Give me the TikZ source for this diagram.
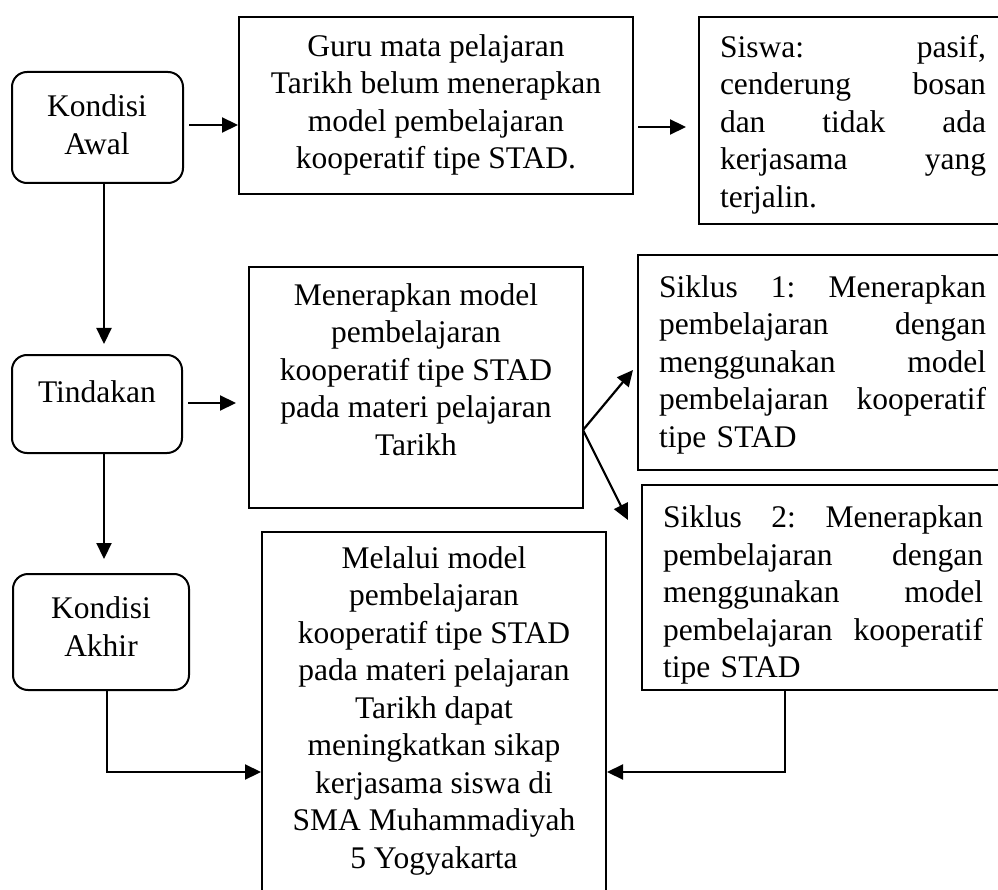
\documentclass[tikz,border=0pt]{standalone}
\usepackage{fontspec}
\setmainfont{Liberation Serif}
\usetikzlibrary{arrows.meta}
\begin{document}
\begin{tikzpicture}[x=1pt,y=-1pt,
  box/.style={draw,line width=2pt,inner sep=0pt},
  rbox/.style={box,rounded corners=15pt},
  txt/.style={inner sep=0pt,font=\fontsize{31.5pt}{37.5pt}\selectfont,
    execute at begin node=\strut,execute at end node=\strut},
  arr/.style={-{Triangle[length=16pt,width=15pt]},line width=2.2pt}]
\useasboundingbox (0,0) rectangle (998,890);
\clip (0,0) rectangle (998,890);
% boxes
\node[rbox,minimum width=171pt,minimum height=111pt] (kawal) at (97.5,127.5) {};
\node[box,minimum width=394pt,minimum height=177pt] (guru) at (436,105.5) {};
\node[box,minimum width=308pt,minimum height=207pt] (siswa) at (853,120.5) {};
\node[rbox,minimum width=170pt,minimum height=98pt] (tind) at (97,404) {};
\node[box,minimum width=334pt,minimum height=241pt] (mener) at (416,387.5) {};
\node[box,minimum width=369pt,minimum height=215pt] (sik1) at (822.5,362.5) {};
\node[box,minimum width=365pt,minimum height=205pt] (sik2) at (824.5,587.5) {};
\node[rbox,minimum width=176pt,minimum height=116pt] (kakhir) at (101,632) {};
\node[box,minimum width=344pt,minimum height=368pt] (final) at (434,716) {};
% texts
\node[txt,align=center] (tkawal) at (97,130) {Kondisi\\Awal};
\node[txt,align=center] (tguru) at (436,107) {Guru mata pelajaran\\Tarikh belum menerapkan\\model pembelajaran\\kooperatif tipe STAD.};
\node[txt,align=left,text width=266pt] (tsiswa) at (853,125) {Siswa:\hfill pasif,\\cenderung\hfill bosan\\dan\hfill tidak\hfill ada\\kerjasama\hfill yang\\terjalin.};
\node[txt,align=center] (ttind) at (97,395) {Tindakan};
\node[txt,align=center] (tmener) at (416,375) {Menerapkan model\\pembelajaran\\kooperatif tipe STAD\\pada materi pelajaran\\Tarikh};
\node[txt,align=left,text width=327pt] (tsik1) at (822.5,365) {Siklus\hfill 1:\hfill Menerapkan\\pembelajaran\hfill dengan\\menggunakan\hfill model\\pembelajaran\hfill kooperatif\\tipe STAD};
\node[txt,align=left,text width=320pt] (tsik2) at (823,595) {Siklus\hfill 2:\hfill Menerapkan\\pembelajaran\hfill dengan\\menggunakan\hfill model\\pembelajaran\hfill kooperatif\\tipe STAD};
\node[txt,align=center] (tkakhir) at (101,632) {Kondisi\\Akhir};
\node[txt,align=center] (tfinal) at (434,713) {Melalui model\\pembelajaran\\kooperatif tipe STAD\\pada materi pelajaran\\Tarikh dapat\\meningkatkan sikap\\kerjasama siswa di\\SMA Muhammadiyah\\5 Yogyakarta};
% connectors
\coordinate (fork) at (583,430);
\coordinate (t1) at (633,370);
\coordinate (t2) at (628,520);
\draw[arr,shorten <=5pt] (kawal.east |- 0,125) -- (guru.west |- 0,125);
\draw[arr,shorten <=4pt,shorten >=12pt] (guru.east |- 0,127) -- (siswa.west |- 0,127);
\draw[arr,shorten >=10pt] (104,0 |- kawal.south) -- (104,0 |- tind.north);
\draw[arr,shorten <=5pt,shorten >=12pt] (tind.east |- 0,403) -- (mener.west |- 0,403);
\draw[arr,shorten >=14pt] (104,0 |- tind.south) -- (104,0 |- kakhir.north);
\draw[arr] (fork) -- (t1);
\draw[arr] (fork) -- (t2);
\draw[arr] (107,0 |- kakhir.south) |- (final.west |- 0,772);
\draw[arr] (785,0 |- sik2.south) |- (final.east |- 0,772);
\end{tikzpicture}
\end{document}
